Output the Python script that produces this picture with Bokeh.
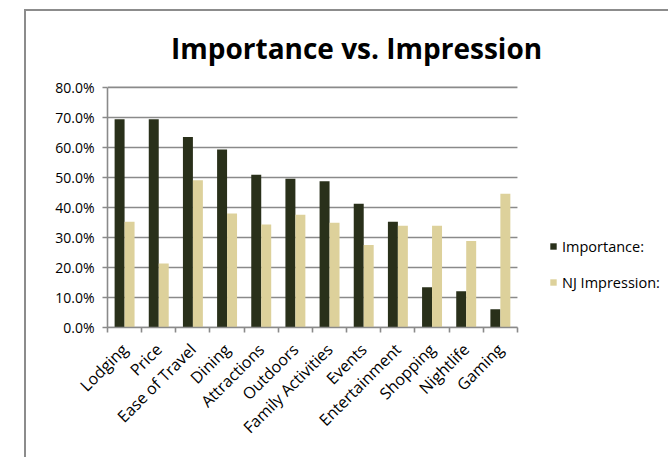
import math
from bokeh.plotting import figure
from bokeh.models import (Range1d, FixedTicker, NumeralTickFormatter, Label,
                          Legend, LegendItem, ColumnDataSource)
from bokeh.embed import file_html
from bokeh.resources import INLINE

categories = ["Lodging", "Price", "Ease of Travel", "Dining", "Attractions",
              "Outdoors", "Family Activities", "Events", "Entertainment",
              "Shopping", "Nightlife", "Gaming"]
importance = [0.694, 0.694, 0.635, 0.593, 0.509, 0.496, 0.487, 0.412,
              0.352, 0.134, 0.121, 0.061]
nj_impression = [0.352, 0.213, 0.491, 0.380, 0.343, 0.376, 0.349, 0.275,
                 0.339, 0.339, 0.288, 0.446]
series_names = ["Importance:", "NJ Impression:"]
y_ticks = [0.0, 0.1, 0.2, 0.3, 0.4, 0.5, 0.6, 0.7, 0.8]

DARK = "#29301a"
LIGHT = "#ddd19b"
GRID = "#8a8a8a"
FONT = "Open Sans"

n = len(categories)
y_max = y_ticks[-1]
centers = [i + 0.5 for i in range(n)]
off = 0.146
bw = 0.292

# the frame also holds the title and legend area, so the ranges run past
# the last category and above the top tick; axes and grid stop at the data
X_END = 16.48
Y_END = 1.053

src = ColumnDataSource(dict(
    x_imp=[c - off for c in centers],
    x_nj=[c + off for c in centers],
    imp=importance,
    nj=nj_impression,
))

p = figure(width=644, height=448, output_backend="svg", toolbar_location=None,
           x_range=Range1d(0, X_END), y_range=Range1d(0, Y_END),
           min_border_left=81, min_border_right=0,
           min_border_top=0, min_border_bottom=132)
p.styles = {"margin-left": "24px", "margin-top": "9px",
            "border-left": "2px solid #8c8c8c",
            "border-top": "2px solid #8c8c8c"}
p.outline_line_color = None
p.background_fill_color = "white"
p.border_fill_color = "white"
p.xgrid.grid_line_color = None
p.ygrid.grid_line_color = None

# horizontal grid lines across the category span
p.segment(x0=[0] * len(y_ticks), x1=[n] * len(y_ticks), y0=y_ticks, y1=y_ticks,
          line_color=GRID, line_width=1.6)

r1 = p.vbar(x="x_imp", top="imp", width=bw, source=src,
            fill_color=DARK, line_color=None)
r2 = p.vbar(x="x_nj", top="nj", width=bw, source=src,
            fill_color=LIGHT, line_color=None)

# x axis: ticks at category boundaries, names at category centres
xa = p.xaxis[0]
xa.bounds = (0, n)
xa.ticker = FixedTicker(ticks=centers, minor_ticks=list(range(n + 1)))
xa.major_label_overrides = {c: name for c, name in zip(centers, categories)}
xa.major_label_orientation = math.pi / 4
xa.major_tick_line_color = None
xa.major_tick_out = 5
xa.major_label_standoff = 14
xa.minor_tick_line_color = GRID
xa.minor_tick_line_width = 1.6
xa.minor_tick_in = 0
xa.minor_tick_out = 5
xa.axis_line_color = GRID
xa.axis_line_width = 1.6
xa.major_label_text_font = FONT
xa.major_label_text_font_size = "16px"
xa.major_label_text_color = "#000000"

ya = p.yaxis[0]
ya.bounds = (0, y_max)
ya.ticker = FixedTicker(ticks=y_ticks)
ya.formatter = NumeralTickFormatter(format="0.0%")
ya.minor_tick_line_color = None
ya.major_tick_in = 0
ya.major_tick_out = 5
ya.major_tick_line_color = GRID
ya.major_tick_line_width = 1.6
ya.axis_line_color = GRID
ya.axis_line_width = 1.6
ya.major_label_standoff = 8
ya.major_label_text_font = FONT
ya.major_label_text_font_size = "14px"
ya.major_label_text_color = "#000000"

title = Label(x=7.29, y=0.93, text="Importance vs. Impression",
              text_align="center", text_baseline="alphabetic",
              text_font=FONT, text_font_style="bold",
              text_font_size="28px", text_color="#000000")
p.add_layout(title)

legend = Legend(items=[LegendItem(label=series_names[0], renderers=[r1]),
                       LegendItem(label=series_names[1], renderers=[r2])],
                location=(442, 35), orientation="vertical",
                padding=0, margin=0, spacing=16,
                glyph_width=8, glyph_height=8, label_height=20,
                label_standoff=5, border_line_color=None,
                background_fill_alpha=0,
                label_text_font=FONT, label_text_font_size="14.5px",
                label_text_color="#000000")
p.add_layout(legend)

open("out.html", "w").write(file_html(p, INLINE))
